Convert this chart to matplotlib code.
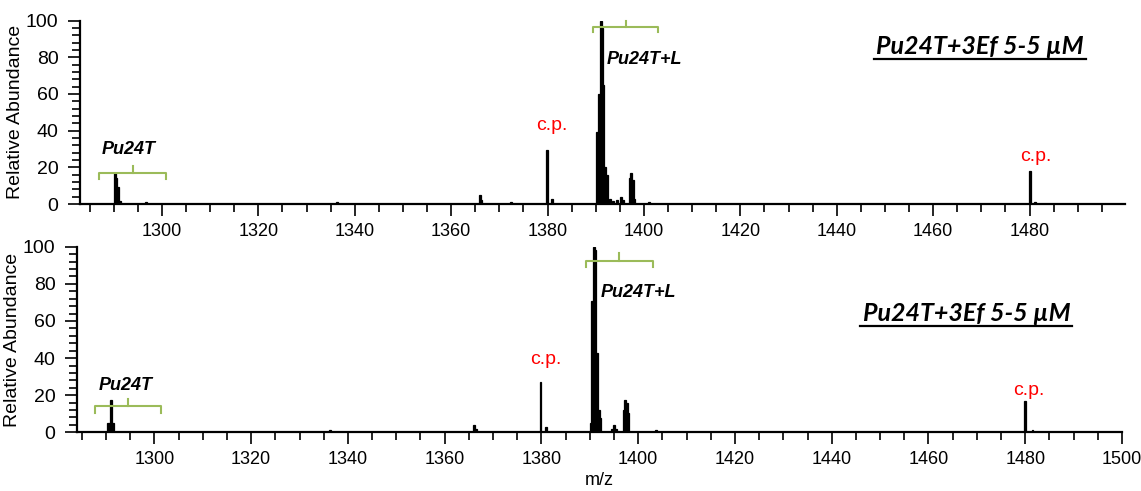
# ms_spectra.py
# Native MS spectra of Pu24T + 3Ef (two replicates), relative abundance vs m/z.

import matplotlib.pyplot as plt
from matplotlib.ticker import MultipleLocator

plt.rcParams['font.family'] = ['Liberation Sans', 'DejaVu Sans']

# peak centroids (m/z) and relative abundance
mz_top = [1290.2, 1290.5, 1290.9, 1291.3, 1296.7, 1336.3, 1365.9, 1366.2, 1372.4,
          1379.9, 1380.9, 1390.3, 1390.7, 1391.0, 1391.3, 1391.6, 1392.0, 1392.4,
          1392.9, 1393.6, 1394.4, 1395.2, 1395.6, 1397.0, 1397.3, 1397.7, 1398.0,
          1401.0, 1480.0, 1481.2]
int_top = [16.7, 14, 9.4, 1.5, 1, 1, 4.9, 2, 1,
           29.5, 2.7, 39.5, 60, 100, 96, 65, 20, 16,
           3, 1.5, 2, 4, 2, 14, 16.7, 13, 3,
           1, 18.2, 1]

mz_bot = [1290.4, 1290.8, 1291.1, 1291.5, 1336.3, 1366.1, 1366.4, 1379.8, 1380.9,
          1390.2, 1390.5, 1390.8, 1391.1, 1391.4, 1391.8, 1392.1, 1394.6, 1395.0,
          1395.4, 1397.0, 1397.3, 1397.7, 1398.0, 1403.7, 1479.9, 1481.5]
int_bot = [5, 5, 17.4, 4.8, 1, 3.9, 2, 27.3, 3,
           5, 71, 100, 98, 42.5, 12, 7.7, 2, 4,
           2, 12, 17.4, 16, 10.5, 1, 17, 1]

panels = [
    dict(mz=mz_top, ab=int_top, xlim=(1283.0, 1499.8),
         pu_bracket=(1287.0, 1300.9, 17.1, 13.6, 1294.0, 20.8), pu_text=(1293.0, 29.5),
         pl_bracket=(1389.4, 1402.9, 96.4, 93.7, 1396.2, 100.0), pl_text=(1392.3, 79.0),
         cp=[(1380.8, 43.0), (1481.2, 26.0)]),
    dict(mz=mz_bot, ab=int_bot, xlim=(1284.0, 1500.0),
         pu_bracket=(1287.7, 1301.4, 14.2, 10.6, 1294.5, 18.0), pu_text=(1294.0, 25.0),
         pl_bracket=(1389.2, 1403.1, 92.5, 89.2, 1396.0, 96.4), pl_text=(1392.3, 75.4),
         cp=[(1380.8, 39.0), (1480.8, 22.8)]),
]

title = 'Pu24T+3Ef 5-5 µM'
green = '#9bbb59'

fig = plt.figure(figsize=(11.41, 4.91), dpi=100)
ax_top = fig.add_axes([80 / 1141, 0.5845, 1045 / 1141, 0.3735])
ax_bot = fig.add_axes([77 / 1141, 0.1195, 1045 / 1141, 0.3780])


def bracket(ax, b):
    x0, x1, y, yend, xc, ytop = b
    ax.plot([x0, x0, x1, x1], [yend, y, y, yend], color=green, lw=1.5, clip_on=False)
    ax.plot([xc, xc], [y, ytop], color=green, lw=1.5, clip_on=False)


for ax, p in zip([ax_top, ax_bot], panels):
    ax.bar(p['mz'], p['ab'], width=0.4, color='black', edgecolor='black', lw=0.9)
    ax.set_xlim(*p['xlim'])
    ax.set_ylim(0, 100)
    ax.xaxis.set_major_locator(MultipleLocator(20))
    ax.xaxis.set_minor_locator(MultipleLocator(5))
    ax.yaxis.set_major_locator(MultipleLocator(20))
    ax.yaxis.set_minor_locator(MultipleLocator(4))
    ax.tick_params(which='major', length=8.5, width=1.2, labelsize=13, pad=5)
    ax.tick_params(which='minor', length=5.5, width=1.2)
    ax.tick_params(axis='y', which='major', labelsize=14, pad=7)
    for s in ['top', 'right']:
        ax.spines[s].set_visible(False)
    for s in ['left', 'bottom']:
        ax.spines[s].set_linewidth(1.6)
    ax.set_ylabel('Relative Abundance', fontsize=14, labelpad=1)

    bracket(ax, p['pu_bracket'])
    bracket(ax, p['pl_bracket'])
    ax.text(*p['pu_text'], 'Pu24T', fontsize=13, fontweight='bold', style='italic',
            ha='center', va='center')
    ax.text(*p['pl_text'], 'Pu24T+L', fontsize=13, fontweight='bold', style='italic',
            ha='left', va='center')
    for x, y in p['cp']:
        ax.text(x, y, 'c.p.', color='red', fontsize=14, ha='center', va='center')

ax_bot.set_xlabel('m/z', fontsize=13, labelpad=3)

fig.text(980 / 1141, 1 - 46.7 / 491, title, family=['Lato', 'DejaVu Sans'], fontsize=18,
         fontweight='bold', style='italic', ha='center', va='center')
fig.text(966.7 / 1141, 1 - 313.3 / 491, title, family=['Lato', 'DejaVu Sans'], fontsize=18,
         fontweight='bold', style='italic', ha='center', va='center')
# underlines below the titles
fig.add_artist(plt.Line2D([874 / 1141, 1086 / 1141], [1 - 58.5 / 491] * 2, color='black', lw=1.6))
fig.add_artist(plt.Line2D([860 / 1141, 1072 / 1141], [1 - 326 / 491] * 2, color='black', lw=1.6))

fig.savefig('out.png', dpi=100)
